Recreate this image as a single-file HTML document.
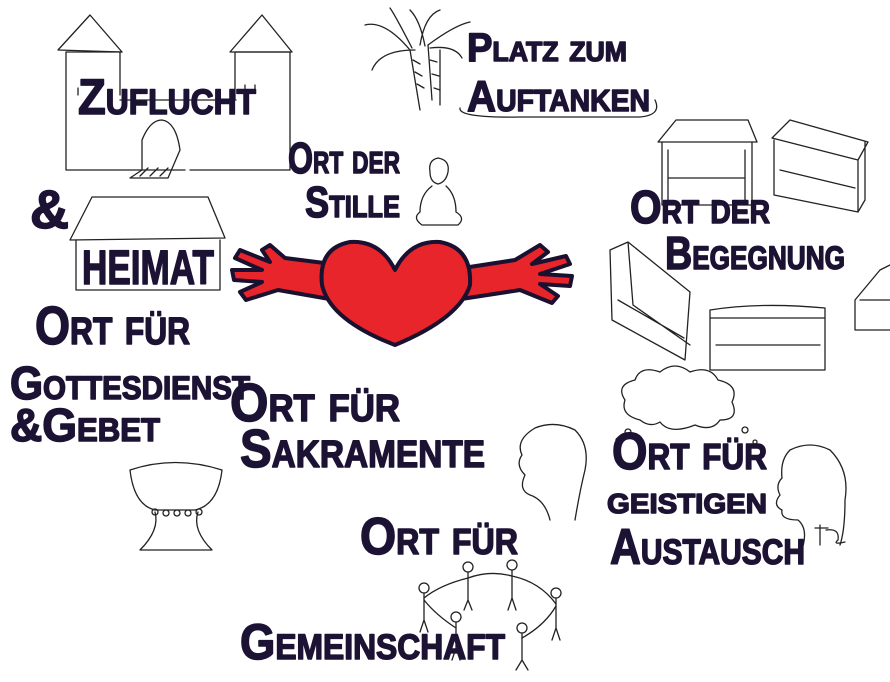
<!DOCTYPE html>
<html><head><meta charset="utf-8">
<style>
html,body{margin:0;padding:0;background:#fff;}
svg{display:block;}
.t{font-family:"Liberation Sans",sans-serif;font-weight:bold;font-variant:small-caps;fill:#1c1233;stroke:#1c1233;stroke-width:1.5;stroke-linejoin:round;}
.l{fill:none;stroke:#222;stroke-width:1.3;stroke-linecap:round;stroke-linejoin:round;}
</style></head>
<body>
<svg width="890" height="682" viewBox="0 0 890 682" xmlns="http://www.w3.org/2000/svg">
<g class="l">
<path d="M58 50 L90 15 L122 52 Z"/>
<path d="M230 52 L262 15 L292 52 Z"/>
<path d="M66 52 V170 H128 M66 52 H122"/>
<path d="M120 52 V95 M235 52 V100 M236 52 H290 V170 H190 M120 100 H236"/>
<path d="M128 170 H185"/>
<path d="M142 170 V140 Q150 120 162 120 Q176 122 180 150 L168 178 H130 Z"/>
<path d="M140 176 L148 168 M150 176 L158 168 M160 176 L168 168"/>
<path d="M245 85 V92 M255 85 V92 M78 88 V95"/>
<path d="M70 240 L92 197 H208 L225 238 Z"/>
<path d="M76 240 V290 H220 V240"/>
<path d="M430 172 Q428 160 438 158 Q450 160 448 172 Q446 182 438 184 Q430 182 430 172 Z"/>
<path d="M432 186 Q420 195 420 212 Q412 218 422 225 H458 Q466 218 456 212 Q456 195 446 186"/>
<path d="M420 110 L410 50 M432 100 L428 45 M440 105 L440 50"/>
<path d="M410 50 Q385 20 365 25 M412 48 Q395 15 390 8 M420 45 Q425 15 440 10 M428 45 Q455 25 470 22 M430 48 Q455 45 462 58 M415 50 Q380 50 372 70 M425 46 Q420 20 410 10"/>
<path d="M413 60 L420 64 M415 72 L422 76 M417 84 L424 88 M430 60 L437 62 M432 74 L439 76 M434 88 L440 90"/>
<path d="M460 108 Q458 118 520 117 H640 Q662 115 655 100"/>
<path d="M658 142 L676 120 H748 L757 142 Z M662 142 V205 H752 V142 M668 150 V200 M745 150 V200 M668 178 H745"/>
<path d="M772 138 L790 120 L868 142 L858 160 Z M774 140 V195 L858 212 V160 M865 142 V200 L858 212 M780 170 L855 188"/>
<path d="M610 250 L628 242 L690 292 L685 360 L612 320 Z M628 242 L633 305 L690 345 M618 300 L684 338"/>
<path d="M710 310 Q760 302 825 308 V370 H710 Z M710 318 H825 M716 345 H820"/>
<path d="M855 330 V300 L880 270 L890 265 M855 330 H890 M860 300 H890"/>
<path d="M130 470 Q175 455 222 470 Q218 505 195 510 H155 Q134 505 130 470 Z"/>
<path d="M155 512 Q160 530 140 550 H212 Q192 530 198 512"/>
<circle cx="155" cy="512" r="3"/><circle cx="166" cy="513" r="3"/><circle cx="177" cy="513" r="3"/><circle cx="188" cy="513" r="3"/><circle cx="199" cy="512" r="3"/>
<path d="M640 420 Q620 415 625 400 Q615 385 635 380 Q640 365 660 372 Q675 360 690 372 Q710 365 718 380 Q740 385 732 402 Q740 420 720 420 Q712 432 695 425 Q670 435 660 422 Q650 428 640 420 Z"/>
<circle cx="628" cy="432" r="3"/><circle cx="618" cy="440" r="2"/><circle cx="745" cy="430" r="3"/><circle cx="755" cy="442" r="2"/>
<path d="M550 520 Q545 500 530 495 Q518 490 525 475 Q515 465 522 455 Q515 440 535 428 Q555 420 575 430 Q590 445 585 470 Q580 490 575 520"/>
<path d="M800 555 Q810 530 798 520 Q780 520 782 510 Q772 505 780 495 Q775 485 782 478 Q780 460 790 450 Q810 440 830 450 Q850 470 845 500 Q845 530 840 545"/>
<g>
<circle cx="468" cy="567" r="5"/><path d="M468 572 V600 M468 600 L464 610 M468 600 L472 610"/>
<circle cx="512" cy="565" r="5"/><path d="M512 570 V598 M512 598 L508 610 M512 598 L516 610"/>
<circle cx="556" cy="593" r="5"/><path d="M556 598 V628 M556 628 L552 640 M556 628 L560 640"/>
<circle cx="424" cy="588" r="5"/><path d="M424 593 V620 M424 620 L420 632 M424 620 L428 632"/>
<circle cx="456" cy="617" r="5"/><path d="M456 622 V648 M456 648 L452 660 M456 648 L460 660"/>
<circle cx="522" cy="628" r="5"/><path d="M522 633 V660 M522 660 L516 670 M522 660 L528 670"/>
<path d="M468 578 Q490 570 512 576 M512 576 Q540 582 556 604 M468 578 Q440 585 424 598 M424 600 Q436 615 456 628 M556 606 Q545 625 522 638"/>
</g>
<path d="M820 525 V545 M815 528 H828 M826 530 Q840 528 838 540 Q832 545 845 542"/>
</g>
<g fill="#e8252a" stroke="#1a1030" stroke-width="4" stroke-linejoin="round">
<path d="M340 265 L285 258 L270 245 L262 250 L270 262 L240 250 L235 258 L262 270 L232 270 L234 280 L262 282 L240 292 L246 300 L278 290 L335 300 Z"/>
<path d="M450 270 L515 260 L540 245 L548 252 L532 264 L566 256 L570 264 L540 274 L572 276 L570 286 L540 284 L558 296 L552 303 L520 290 L455 300 Z"/>
<path d="M395 270 Q380 240 350 242 Q318 248 322 285 Q330 320 395 345 Q460 318 470 285 Q472 248 440 242 Q410 240 395 270 Z"/>
</g>
<g class="t">
<text x="78" y="114" font-size="50" textLength="178" lengthAdjust="spacingAndGlyphs">Zuflucht</text>
<text x="30" y="228" font-size="54">&amp;</text>
<text x="82" y="284" font-size="48" textLength="132" lengthAdjust="spacingAndGlyphs">HEIMAT</text>
<text x="288" y="173" font-size="44" textLength="112" lengthAdjust="spacingAndGlyphs">Ort der</text>
<text x="305" y="217" font-size="44" textLength="95" lengthAdjust="spacingAndGlyphs">Stille</text>
<text x="467" y="61" font-size="40" textLength="160" lengthAdjust="spacingAndGlyphs">Platz zum</text>
<text x="467" y="111" font-size="44" textLength="183" lengthAdjust="spacingAndGlyphs">Auftanken</text>
<text x="630" y="223" font-size="46" textLength="140" lengthAdjust="spacingAndGlyphs">Ort der</text>
<text x="665" y="269" font-size="46" textLength="180" lengthAdjust="spacingAndGlyphs">Begegnung</text>
<text x="35" y="344" font-size="54" textLength="155" lengthAdjust="spacingAndGlyphs">Ort für</text>
<text x="10" y="399" font-size="46" textLength="240" lengthAdjust="spacingAndGlyphs">Gottesdienst</text>
<text x="10" y="441" font-size="46" textLength="150" lengthAdjust="spacingAndGlyphs">&amp;Gebet</text>
<text x="230" y="421" font-size="54" textLength="170" lengthAdjust="spacingAndGlyphs">Ort für</text>
<text x="240" y="467" font-size="54" textLength="245" lengthAdjust="spacingAndGlyphs">Sakramente</text>
<text x="612" y="469" font-size="52" textLength="155" lengthAdjust="spacingAndGlyphs">Ort für</text>
<text x="607" y="513" font-size="40" textLength="160" lengthAdjust="spacingAndGlyphs">geistigen</text>
<text x="610" y="564" font-size="50" textLength="195" lengthAdjust="spacingAndGlyphs">Austausch</text>
<text x="360" y="554" font-size="52" textLength="158" lengthAdjust="spacingAndGlyphs">Ort für</text>
<text x="240" y="659" font-size="50" textLength="265" lengthAdjust="spacingAndGlyphs">Gemeinschaft</text>
</g>
</svg>
</body></html>
